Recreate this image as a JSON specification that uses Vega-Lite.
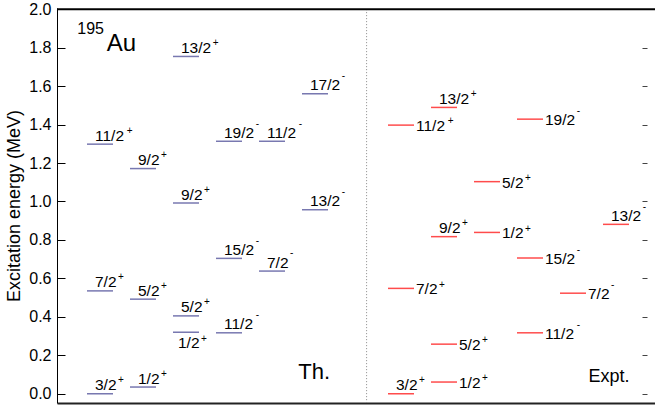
{
  "$schema": "https://vega.github.io/schema/vega-lite/v6.json",
  "width": 598,
  "height": 395,
  "autosize": "none",
  "padding": {"left": 57, "top": 8, "right": 0, "bottom": 6},
  "background": "white",
  "config": {"view": {"stroke": null}, "font": "Liberation Sans", "text": {"font": "Liberation Sans"}},
  "datasets": {
    "levels": [
      {"grp": "Th", "col": 1, "E": 0.0, "label": "3/2", "parity": "+", "side": "above"},
      {"grp": "Th", "col": 1, "E": 0.535, "label": "7/2", "parity": "+", "side": "above"},
      {"grp": "Th", "col": 1, "E": 1.298, "label": "11/2", "parity": "+", "side": "above"},
      {"grp": "Th", "col": 2, "E": 0.035, "label": "1/2", "parity": "+", "side": "above"},
      {"grp": "Th", "col": 2, "E": 0.492, "label": "5/2", "parity": "+", "side": "above"},
      {"grp": "Th", "col": 2, "E": 1.171, "label": "9/2", "parity": "+", "side": "above"},
      {"grp": "Th", "col": 3, "E": 0.32, "label": "1/2", "parity": "+", "side": "below"},
      {"grp": "Th", "col": 3, "E": 0.405, "label": "5/2", "parity": "+", "side": "above"},
      {"grp": "Th", "col": 3, "E": 0.992, "label": "9/2", "parity": "+", "side": "above"},
      {"grp": "Th", "col": 3, "E": 1.754, "label": "13/2", "parity": "+", "side": "above"},
      {"grp": "Th", "col": 4, "E": 0.317, "label": "11/2", "parity": "-", "side": "above"},
      {"grp": "Th", "col": 4, "E": 0.704, "label": "15/2", "parity": "-", "side": "above"},
      {"grp": "Th", "col": 4, "E": 1.313, "label": "19/2", "parity": "-", "side": "above"},
      {"grp": "Th", "col": 5, "E": 0.638, "label": "7/2", "parity": "-", "side": "above"},
      {"grp": "Th", "col": 5, "E": 1.313, "label": "11/2", "parity": "-", "side": "above"},
      {"grp": "Th", "col": 6, "E": 0.957, "label": "13/2", "parity": "-", "side": "above"},
      {"grp": "Th", "col": 6, "E": 1.56, "label": "17/2", "parity": "-", "side": "above"},
      {"grp": "Expt", "col": 8, "E": 0.0, "label": "3/2", "parity": "+", "side": "above"},
      {"grp": "Expt", "col": 8, "E": 0.548, "label": "7/2", "parity": "+", "side": "right"},
      {"grp": "Expt", "col": 8, "E": 1.397, "label": "11/2", "parity": "+", "side": "right"},
      {"grp": "Expt", "col": 9, "E": 0.061, "label": "1/2", "parity": "+", "side": "right"},
      {"grp": "Expt", "col": 9, "E": 0.258, "label": "5/2", "parity": "+", "side": "right"},
      {"grp": "Expt", "col": 9, "E": 0.817, "label": "9/2", "parity": "+", "side": "above"},
      {"grp": "Expt", "col": 9, "E": 1.489, "label": "13/2", "parity": "+", "side": "above"},
      {"grp": "Expt", "col": 10, "E": 0.839, "label": "1/2", "parity": "+", "side": "right"},
      {"grp": "Expt", "col": 10, "E": 1.103, "label": "5/2", "parity": "+", "side": "right"},
      {"grp": "Expt", "col": 11, "E": 0.317, "label": "11/2", "parity": "-", "side": "right"},
      {"grp": "Expt", "col": 11, "E": 0.706, "label": "15/2", "parity": "-", "side": "right"},
      {"grp": "Expt", "col": 11, "E": 1.428, "label": "19/2", "parity": "-", "side": "right"},
      {"grp": "Expt", "col": 12, "E": 0.523, "label": "7/2", "parity": "-", "side": "right"},
      {"grp": "Expt", "col": 13, "E": 0.881, "label": "13/2", "parity": "-", "side": "above"}
    ]
  },
  "resolve": {"axis": {"x": "independent", "y": "independent"}},
  "layer": [
    {
      "data": {"values": [{"divider": 7.2}]},
      "mark": {"type": "rule", "strokeDash": [1, 2], "color": "#888888", "strokeWidth": 1},
      "encoding": {
        "x": {"field": "divider", "type": "quantitative", "scale": {"domain": [0, 13.907], "nice": false, "zero": false}, "axis": null},
        "y": {"datum": 2.0, "type": "quantitative", "scale": {"domain": [-0.048, 2.006], "nice": false, "zero": false}, "axis": null},
        "y2": {"datum": -0.048}
      }
    },
    {
      "data": {"values": [{"x0": 0, "x1": 13.907, "yTop": 1.999}]},
      "mark": {"type": "rule", "stroke": "#000000", "strokeWidth": 2, "opacity": 1},
      "encoding": {
        "x": {"field": "x0", "type": "quantitative", "axis": null},
        "x2": {"field": "x1"},
        "y": {"field": "yTop", "type": "quantitative", "axis": null}
      }
    },
    {
      "data": {"name": "levels"},
      "mark": {"type": "tick", "orient": "horizontal", "size": 26, "thickness": 1.5},
      "encoding": {
        "x": {"field": "col", "type": "quantitative", "scale": {"domain": [0, 13.907], "nice": false, "zero": false},
          "axis": {"orient": "bottom", "domain": true, "domainColor": "#222222", "domainWidth": 2, "ticks": false, "labels": false, "title": null, "grid": false}},
        "y": {"field": "E", "type": "quantitative", "scale": {"domain": [-0.048, 2.006], "nice": false, "zero": false},
          "axis": {"orient": "left", "values": [0, 0.2, 0.4, 0.6, 0.8, 1.0, 1.2, 1.4, 1.6, 1.8, 2.0], "format": ".1f",
            "tickSize": -8, "tickColor": "black", "domainColor": "black", "labelFontSize": 16, "labelFont": "Liberation Sans",
            "labelColor": "black", "labelPadding": 14, "title": "Excitation energy (MeV)", "titleFontSize": 18,
            "titleFont": "Liberation Sans", "titleFontWeight": "normal", "titleColor": "black", "titlePadding": 5, "grid": false}},
        "color": {"field": "grp", "type": "nominal", "scale": {"domain": ["Th", "Expt"], "range": ["#3f3f8f", "#ff0000"]}, "legend": null}
      }
    },
    {
      "data": {"name": "levels"},
      "transform": [{"filter": "datum.side == 'above'"}],
      "mark": {"type": "text", "align": "left", "baseline": "alphabetic", "dx": -5, "dy": -3.5, "fontSize": 15.5, "color": "black"},
      "encoding": {
        "x": {"field": "col", "type": "quantitative", "axis": null},
        "y": {"field": "E", "type": "quantitative", "axis": null},
        "text": {"field": "label"}
      }
    },
    {
      "data": {"name": "levels"},
      "transform": [{"filter": "datum.side == 'right'"}],
      "mark": {"type": "text", "align": "left", "baseline": "alphabetic", "dx": 15, "dy": 6, "fontSize": 15.5, "color": "black"},
      "encoding": {
        "x": {"field": "col", "type": "quantitative", "axis": null},
        "y": {"field": "E", "type": "quantitative", "axis": null},
        "text": {"field": "label"}
      }
    },
    {
      "data": {"name": "levels"},
      "transform": [{"filter": "datum.side == 'below'"}],
      "mark": {"type": "text", "align": "left", "baseline": "alphabetic", "dx": -8, "dy": 16, "fontSize": 15.5, "color": "black"},
      "encoding": {
        "x": {"field": "col", "type": "quantitative", "axis": null},
        "y": {"field": "E", "type": "quantitative", "axis": null},
        "text": {"field": "label"}
      }
    },
    {
      "data": {"name": "levels"},
      "transform": [{"filter": "datum.side == 'above'"}],
      "mark": {"type": "text", "align": "left", "baseline": "alphabetic", "fontSize": 10, "color": "black",
        "dx": {"expr": "length(datum.label) > 3 ? 26.7 : 18"},
        "dy": {"expr": "datum.parity == '+' ? -10.5 : -14.7"}},
      "encoding": {
        "x": {"field": "col", "type": "quantitative", "axis": null},
        "y": {"field": "E", "type": "quantitative",
          "axis": {"orient": "right", "values": [0, 0.2, 0.4, 0.6, 0.8, 1.0, 1.2, 1.4, 1.6, 1.8, 2.0], "offset": -13, "tickSize": 5,
            "tickColor": "#444444", "domain": false, "labels": false, "title": null, "grid": false}},
        "text": {"field": "parity"}
      }
    },
    {
      "data": {"name": "levels"},
      "transform": [{"filter": "datum.side == 'right'"}],
      "mark": {"type": "text", "align": "left", "baseline": "alphabetic", "fontSize": 10, "color": "black",
        "dx": {"expr": "length(datum.label) > 3 ? 46.7 : 38"},
        "dy": {"expr": "datum.parity == '+' ? -0.7 : -5.2"}},
      "encoding": {
        "x": {"field": "col", "type": "quantitative", "axis": null},
        "y": {"field": "E", "type": "quantitative", "axis": null},
        "text": {"field": "parity"}
      }
    },
    {
      "data": {"name": "levels"},
      "transform": [{"filter": "datum.side == 'below'"}],
      "mark": {"type": "text", "align": "left", "baseline": "alphabetic", "fontSize": 10, "color": "black", "dx": 15, "dy": 9.3},
      "encoding": {
        "x": {"field": "col", "type": "quantitative", "axis": null},
        "y": {"field": "E", "type": "quantitative", "axis": null},
        "text": {"field": "parity"}
      }
    },
    {
      "data": {"values": [{"x": 5.61, "y": 0.079, "t": "Th."}]},
      "mark": {"type": "text", "align": "left", "baseline": "alphabetic", "fontSize": 22, "color": "black"},
      "encoding": {
        "x": {"field": "x", "type": "quantitative", "axis": null},
        "y": {"field": "y", "type": "quantitative", "axis": null},
        "text": {"field": "t"}
      }
    },
    {
      "data": {"values": [{"x": 12.36, "y": 0.062, "t": "Expt."}]},
      "mark": {"type": "text", "align": "left", "baseline": "alphabetic", "fontSize": 18, "color": "black"},
      "encoding": {
        "x": {"field": "x", "type": "quantitative", "axis": null},
        "y": {"field": "y", "type": "quantitative", "axis": null},
        "text": {"field": "t"}
      }
    },
    {
      "data": {"values": [{"x": 1.156, "y": 1.78, "t": "Au"}]},
      "mark": {"type": "text", "align": "left", "baseline": "alphabetic", "fontSize": 24, "color": "black"},
      "encoding": {
        "x": {"field": "x", "type": "quantitative", "axis": null},
        "y": {"field": "y", "type": "quantitative", "axis": null},
        "text": {"field": "t"}
      }
    },
    {
      "data": {"values": [{"x": 0.472, "y": 1.871, "t": "195"}]},
      "mark": {"type": "text", "align": "left", "baseline": "alphabetic", "fontSize": 16, "color": "black"},
      "encoding": {
        "x": {"field": "x", "type": "quantitative", "axis": null},
        "y": {"field": "y", "type": "quantitative", "axis": null},
        "text": {"field": "t"}
      }
    }
  ]
}
